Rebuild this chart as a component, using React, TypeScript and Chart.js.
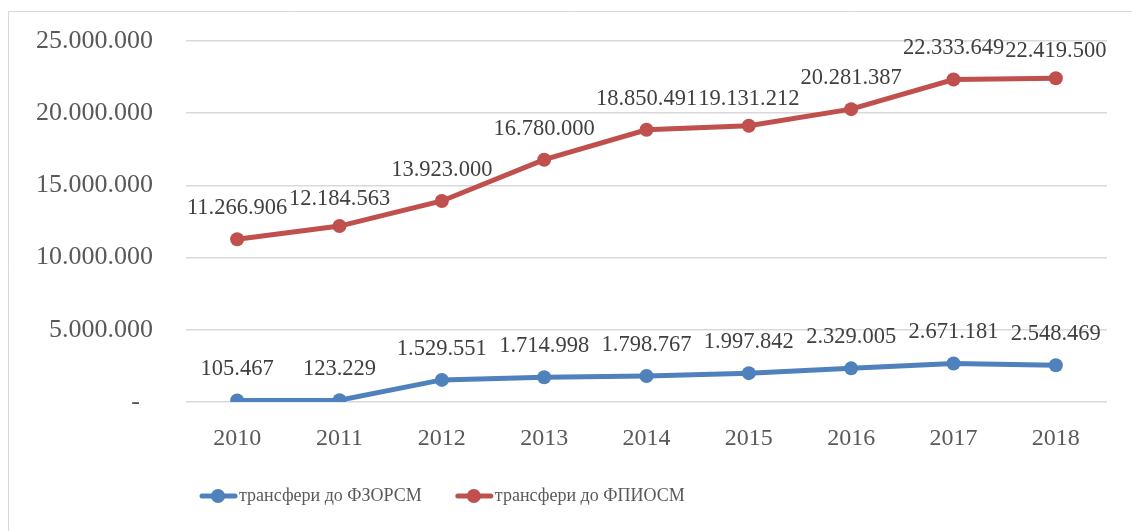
import React, { useEffect, useRef } from "react";
import { Chart, registerables } from "chart.js";

Chart.register(...registerables);

const years = ["2010", "2011", "2012", "2013", "2014", "2015", "2016", "2017", "2018"];
const fzorsm = [105467, 123229, 1529551, 1714998, 1798767, 1997842, 2329005, 2671181, 2548469];
const fpiosm = [11266906, 12184563, 13923000, 16780000, 18850491, 19131212, 20281387, 22333649, 22419500];
const seriesNames = ["трансфери до ФЗОРСМ", "трансфери до ФПИОСМ"];
const seriesColors = ["#4F81BD", "#C0504D"];
const yMax = 25000000;
const yStep = 5000000;

const FONT = "'Liberation Serif', 'Times New Roman', serif";

function fmt(v: number): string {
  return Math.round(v).toString().replace(/\B(?=(\d{3})+(?!\d))/g, ".");
}

const framePlugin = {
  id: "frame",
  beforeDraw(chart: any) {
    const ctx = chart.ctx;
    ctx.save();
    ctx.strokeStyle = "#D9D9D9";
    ctx.lineWidth = 1;
    ctx.beginPath();
    ctx.moveTo(8.5, 531);
    ctx.lineTo(8.5, 11.5);
    ctx.lineTo(1132, 11.5);
    ctx.stroke();
    ctx.restore();
  },
};

const dataLabelPlugin = {
  id: "dataLabels",
  afterDatasetsDraw(chart: any) {
    const ctx = chart.ctx;
    ctx.save();
    ctx.font = `22.5px ${FONT}`;
    ctx.fillStyle = "#404040";
    ctx.textAlign = "center";
    ctx.textBaseline = "middle";
    chart.data.datasets.forEach((ds: any, i: number) => {
      const meta = chart.getDatasetMeta(i);
      const items = meta.data.map((el: any, j: number) => {
        const text = fmt(ds.data[j]);
        return { text, x: el.x, y: el.y - 31, w: ctx.measureText(text).width };
      });
      // simple collision avoidance between neighbouring labels
      for (let j = 1; j < items.length; j++) {
        const a = items[j - 1];
        const b = items[j];
        const gap = (b.x - b.w / 2) - (a.x + a.w / 2);
        if (gap < 3 && Math.abs(a.y - b.y) < 20) {
          b.y += 4;
          if (gap < 0) a.y -= 8;
        }
      }
      items.forEach((it: any) => ctx.fillText(it.text, it.x, it.y));
    });
    ctx.restore();
  },
};

const legendPlugin = {
  id: "customLegend",
  afterDraw(chart: any) {
    const ctx = chart.ctx;
    ctx.save();
    ctx.font = `18px ${FONT}`;
    ctx.textBaseline = "middle";
    ctx.textAlign = "left";
    let x = 200;
    const y = 496;
    chart.data.datasets.forEach((ds: any) => {
      const color = ds.borderColor;
      ctx.strokeStyle = color;
      ctx.lineWidth = 5;
      ctx.lineCap = "round";
      ctx.beginPath();
      ctx.moveTo(x + 2, y);
      ctx.lineTo(x + 35, y);
      ctx.stroke();
      ctx.fillStyle = color;
      ctx.beginPath();
      ctx.arc(x + 18, y, 7, 0, Math.PI * 2);
      ctx.fill();
      ctx.fillStyle = "#595959";
      ctx.fillText(ds.label, x + 39, y);
      const w = ctx.measureText(ds.label).width;
      x += 39 + w + 34;
    });
    ctx.restore();
  },
};

export default function App() {
  const ref = useRef<HTMLCanvasElement | null>(null);
  useEffect(() => {
    if (!ref.current) return;
    const chart = new Chart(ref.current, {
      type: "line",
      data: {
        labels: years,
        datasets: [fzorsm, fpiosm].map((d, i) => ({
          label: seriesNames[i],
          data: d,
          borderColor: seriesColors[i],
          backgroundColor: seriesColors[i],
          borderWidth: 5,
          pointRadius: 7,
          pointBackgroundColor: seriesColors[i],
          pointBorderWidth: 0,
          tension: 0,
        })),
      },
      options: {
        responsive: false,
        animation: false,
        layout: { padding: { left: 0, right: 25, top: 41, bottom: 0 } },
        plugins: { legend: { display: false }, tooltip: { enabled: false } },
        scales: {
          x: {
            offset: true,
            grid: { display: false, drawTicks: false },
            border: { display: false },
            ticks: { font: { family: FONT, size: 24 }, color: "#595959", padding: 22 },
            afterFit: (s: any) => { s.height = 129; s.paddingLeft = 0; s.paddingRight = 0; },
          },
          y: {
            min: 0,
            max: yMax,
            ticks: {
              stepSize: yStep,
              font: { family: FONT, size: 26 },
              color: "#595959",
              padding: 33,
              callback: (v: any) => (Number(v) === 0 ? "-  " : fmt(Number(v))),
            },
            grid: { color: "#D9D9D9", lineWidth: 1.5, drawTicks: false },
            border: { display: false },
            afterFit: (s: any) => { s.width = 186; s.paddingTop = 0; s.paddingBottom = 0; },
          },
        },
      },
      plugins: [framePlugin, dataLabelPlugin, legendPlugin],
    });
    return () => chart.destroy();
  }, []);
  return (
    <div style={{ position: "fixed", left: 0, top: 0, width: 1132, height: 531, background: "#fff" }}>
      <canvas ref={ref} width={1132} height={531} />
    </div>
  );
}
